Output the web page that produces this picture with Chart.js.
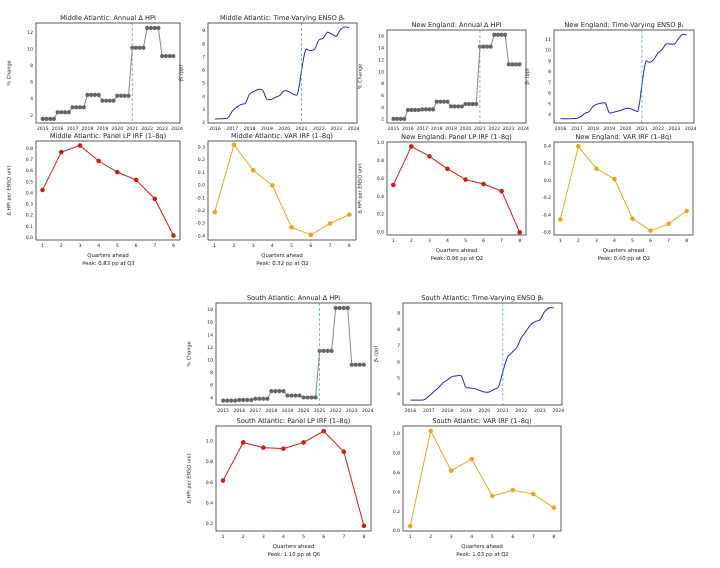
<!DOCTYPE html>
<html>
<head>
<meta charset="utf-8">
<script src="https://cdn.jsdelivr.net/npm/chart.js@4"></script>
<style>
body { margin:0; background:#fff; width:720px; height:568px; position:relative; overflow:hidden; font-family:"DejaVu Sans", sans-serif; }
.box { position:absolute; }
.peak { position:absolute; font-size:5.3px; color:#222; transform:translateX(-50%); white-space:nowrap; }
</style>
</head>
<body>
<script>
// quarterly x positions
var hpiQuarters = [];
for (var y = 2015; y < 2024; y++) for (var q = 0; q < 4; q++) hpiQuarters.push(y + q * 0.25);
var betaQuarters = hpiQuarters.slice(4);
var horizons = [1, 2, 3, 4, 5, 6, 7, 8];

// annual HPI change, one value per year 2015..2023 (held for 4 quarters)
var maHpiYear = [1.6, 2.4, 3.0, 4.5, 3.8, 4.4, 10.2, 12.6, 9.2];
var neHpiYear = [2.1, 3.6, 3.7, 5.0, 4.2, 4.6, 14.3, 16.3, 11.3];
var saHpiYear = [3.6, 3.7, 3.9, 5.1, 4.4, 4.1, 11.5, 18.3, 9.3];

var maBeta = [2.3,2.32,2.33,2.4, 2.9,3.2,3.4,3.5, 4.2,4.4,4.55,4.5, 3.8,3.8,3.95,4.1, 4.45,4.4,4.2,4.15, 6.0,7.6,7.5,7.6, 8.3,8.45,8.9,8.75, 8.6,9.1,9.3,9.25];
var neBeta = [3.65,3.65,3.65,3.67, 3.68,3.85,4.15,4.3, 4.8,5.0,5.1,5.1, 4.2,4.25,4.35,4.45, 4.6,4.6,4.45,4.35, 6.8,9.0,8.9,9.2, 9.8,10.1,10.6,10.6, 10.6,11.1,11.5,11.45];
var saBeta = [3.65,3.65,3.65,3.68, 3.9,4.15,4.4,4.7, 4.9,5.1,5.15,5.15, 4.45,4.4,4.35,4.25, 4.15,4.15,4.3,4.45, 5.4,6.3,6.6,6.9, 7.5,7.9,8.3,8.5, 8.6,9.1,9.35,9.35];

var maLp = [0.43, 0.77, 0.83, 0.69, 0.59, 0.52, 0.35, 0.02];
var maVar = [-0.21, 0.32, 0.12, 0.0, -0.33, -0.39, -0.30, -0.23];
var neLp = [0.53, 0.96, 0.85, 0.71, 0.59, 0.54, 0.46, 0.0];
var neVar = [-0.45, 0.40, 0.14, 0.02, -0.44, -0.58, -0.50, -0.35];
var saLp = [0.62, 0.99, 0.94, 0.93, 0.99, 1.10, 0.90, 0.18];
var saVar = [0.05, 1.03, 0.62, 0.74, 0.36, 0.42, 0.38, 0.24];

function expand(yearVals) {
  var out = [];
  yearVals.forEach(function (v) { for (var i = 0; i < 4; i++) out.push(v); });
  return out;
}
function pts(xs, ys) { return xs.map(function (x, i) { return {x: x, y: ys[i]}; }); }

Chart.defaults.font.family = '"DejaVu Sans", sans-serif';
Chart.defaults.font.size = 4.6;
Chart.defaults.color = '#222';
Chart.defaults.animation = false;

var vline = {
  id: 'vline',
  afterDatasetsDraw: function (chart, args, opts) {
    if (!opts.at) return;
    var x = chart.scales.x.getPixelForValue(opts.at), a = chart.chartArea, c = chart.ctx;
    c.save(); c.strokeStyle = '#5fb3b3'; c.lineWidth = 0.8; c.setLineDash([3, 2]);
    c.beginPath(); c.moveTo(x, a.top); c.lineTo(x, a.bottom); c.stroke(); c.restore();
  }
};
// frame round the axes plus a title centred over them
var frame = {
  id: 'frame',
  afterDraw: function (chart, args, opts) {
    var a = chart.chartArea, c = chart.ctx;
    c.save(); c.strokeStyle = '#333'; c.lineWidth = 0.8;
    c.strokeRect(a.left, a.top, a.right - a.left, a.bottom - a.top);
    c.fillStyle = '#222'; c.font = '6.6px "DejaVu Sans", sans-serif';
    c.textAlign = 'center'; c.textBaseline = 'alphabetic';
    c.fillText(opts.text, (a.left + a.right) / 2, a.top - 3);
    c.restore();
  }
};

function panel(p) {
  var yw = 30, th = 14, xh = p.irf ? 20 : 12;
  var box = document.createElement('div');
  box.className = 'box';
  box.style.left = (p.L - yw) + 'px'; box.style.top = (p.T - th) + 'px';
  box.style.width = (p.R - p.L + yw + 4) + 'px'; box.style.height = (p.B - p.T + th + xh) + 'px';
  var cv = document.createElement('canvas');
  box.appendChild(cv);
  document.body.appendChild(box);
  var ds;
  if (p.kind === 'hpi') {
    ds = {data: pts(hpiQuarters, expand(p.data)), borderColor: '#888', borderWidth: 1,
          pointRadius: 1.6, pointBackgroundColor: '#666', pointBorderColor: '#666'};
  } else if (p.kind === 'beta') {
    ds = {data: pts(betaQuarters, p.data), borderColor: '#2b2ba8', borderWidth: 1, pointRadius: 0, tension: 0.3};
  } else {
    ds = {data: pts(horizons, p.data), borderColor: p.color, borderWidth: 1,
          pointRadius: 1.8, pointBackgroundColor: p.color, pointBorderColor: p.color};
  }
  var xs = p.irf
    ? {type: 'linear', min: 0.65, max: 8.35, afterBuildTicks: function (s) { s.ticks = horizons.map(function (v) { return {value: v}; }); },
       title: {display: true, text: 'Quarters ahead', padding: 1, font: {size: 5.3}}}
    : {type: 'linear', min: p.kind === 'hpi' ? 2014.55 : 2015.6, max: 2024.2,
       afterBuildTicks: function (s) { var t = []; for (var y = (p.kind === 'hpi' ? 2015 : 2016); y <= 2024; y++) t.push({value: y}); s.ticks = t; },
       ticks: {callback: function (v) { return String(v); }}};
  xs.grid = {display: false, drawTicks: true, tickLength: 2, color: '#333'};
  xs.border = {display: false};
  xs.ticks = Object.assign({maxRotation: 0, padding: 1, autoSkip: false}, xs.ticks || {});
  xs.afterFit = function (s) { s.height = xh; };
  new Chart(cv, {
    type: 'line',
    data: {datasets: [ds]},
    options: {
      responsive: true, maintainAspectRatio: false, devicePixelRatio: 2,
      layout: {padding: {right: 4, top: th}},
      plugins: {legend: {display: false}, tooltip: {enabled: false}, title: {display: false},
        frame: {text: p.title},
        vline: {at: p.kind === 'irf' ? null : 2021}},
      scales: {
        x: xs,
        y: {min: p.ymin, max: p.ymax,
            afterBuildTicks: function (s) { var t = []; for (var v = p.tmin; v <= p.ymax + 1e-9; v += p.step) t.push({value: Math.round(v * 100) / 100}); s.ticks = t; },
            ticks: {padding: 1, callback: function (v) { return p.step < 1 ? v.toFixed(1) : String(v); }},
            grid: {display: false, tickLength: 2, color: '#333'}, border: {display: false},
            title: {display: !!p.ytitle, text: p.ytitle, padding: 0, font: {size: 5}},
            afterFit: function (s) { s.width = yw; }}
      }
    },
    plugins: [vline, frame]
  });
  if (p.peak) {
    var d = document.createElement('div'); d.className = 'peak'; d.textContent = p.peak;
    d.style.left = ((p.L + p.R) / 2) + 'px'; d.style.top = (p.B + 20) + 'px';
    document.body.appendChild(d);
  }
}

var LP_RED = '#cc1f1a', VAR_GOLD = '#e5a823';
var ma = {t1: 23, b1: 123, t2: 141, b2: 240};
var ne = {t1: 30, b1: 123, t2: 142, b2: 235};
var sa = {t1: 303, b1: 405, t2: 426, b2: 531};

panel({kind:'hpi', title:'Middle Atlantic: Annual Δ HPI', data:maHpiYear, L:36, R:181, T:ma.t1, B:ma.b1, ymin:1.1, ymax:13.2, tmin:2, step:2, ytitle:'% Change'});
panel({kind:'beta', title:'Middle Atlantic: Time-Varying ENSO βₜ', data:maBeta, L:208, R:357, T:ma.t1, B:ma.b1, ymin:2, ymax:9.6, tmin:2, step:1, ytitle:'βₜ (pp)'});
panel({kind:'irf', irf:true, color:LP_RED, title:'Middle Atlantic: Panel LP IRF (1–8q)', data:maLp, L:36, R:181, T:ma.t2, B:ma.b2, ymin:-0.02, ymax:0.87, tmin:0, step:0.1, ytitle:'Δ HPI per ENSO unit', peak:'Peak: 0.83 pp at Q3'});
panel({kind:'irf', irf:true, color:VAR_GOLD, title:'Middle Atlantic: VAR IRF (1–8q)', data:maVar, L:208, R:357, T:ma.t2, B:ma.b2, ymin:-0.43, ymax:0.35, tmin:-0.4, step:0.1, peak:'Peak: 0.32 pp at Q2'});

panel({kind:'hpi', title:'New England: Annual Δ HPI', data:neHpiYear, L:387, R:527, T:ne.t1, B:ne.b1, ymin:1.4, ymax:17.1, tmin:2, step:2, ytitle:'% Change'});
panel({kind:'beta', title:'New England: Time-Varying ENSO βₜ', data:neBeta, L:554, R:694, T:ne.t1, B:ne.b1, ymin:3.25, ymax:11.9, tmin:4, step:1, ytitle:'βₜ (pp)'});
panel({kind:'irf', irf:true, color:LP_RED, title:'New England: Panel LP IRF (1–8q)', data:neLp, L:387, R:527, T:ne.t2, B:ne.b2, ymin:-0.03, ymax:1.01, tmin:0, step:0.2, ytitle:'Δ HPI per ENSO unit', peak:'Peak: 0.96 pp at Q2'});
panel({kind:'irf', irf:true, color:VAR_GOLD, title:'New England: VAR IRF (1–8q)', data:neVar, L:554, R:694, T:ne.t2, B:ne.b2, ymin:-0.63, ymax:0.45, tmin:-0.6, step:0.2, peak:'Peak: 0.40 pp at Q2'});

panel({kind:'hpi', title:'South Atlantic: Annual Δ HPI', data:saHpiYear, L:216, R:372, T:sa.t1, B:sa.b1, ymin:2.9, ymax:19.1, tmin:4, step:2, ytitle:'% Change'});
panel({kind:'beta', title:'South Atlantic: Time-Varying ENSO βₜ', data:saBeta, L:403, R:562, T:sa.t1, B:sa.b1, ymin:3.35, ymax:9.65, tmin:4, step:1, ytitle:'βₜ (pp)'});
panel({kind:'irf', irf:true, color:LP_RED, title:'South Atlantic: Panel LP IRF (1–8q)', data:saLp, L:216, R:372, T:sa.t2, B:sa.b2, ymin:0.13, ymax:1.15, tmin:0.2, step:0.2, ytitle:'Δ HPI per ENSO unit', peak:'Peak: 1.10 pp at Q6'});
panel({kind:'irf', irf:true, color:VAR_GOLD, title:'South Atlantic: VAR IRF (1–8q)', data:saVar, L:403, R:562, T:sa.t2, B:sa.b2, ymin:0, ymax:1.08, tmin:0, step:0.2, peak:'Peak: 1.03 pp at Q2'});
</script>
</body>
</html>
